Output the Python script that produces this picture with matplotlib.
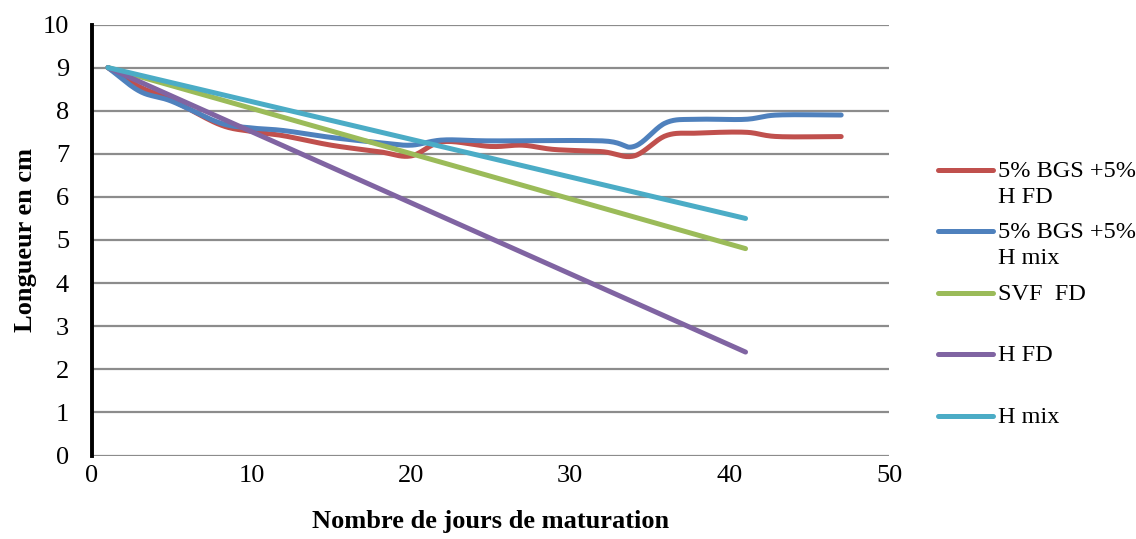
import numpy as np
import matplotlib
matplotlib.use("Agg")
import matplotlib.pyplot as plt
from matplotlib.lines import Line2D

plt.rcParams['font.family'] = ['Liberation Serif', 'DejaVu Serif']

labels = ["5% BGS +5%\nH FD", "5% BGS +5%\nH mix", "SVF  FD", "H FD", "H mix"]
colors = ["#C0504D", "#4F81BD", "#9BBB59", "#8064A2", "#4BACC6"]

days_bgs_fd = [1, 3, 5, 8, 10, 12, 15, 18, 20, 22, 25, 27, 29, 32, 34, 36, 38, 41, 43, 47]
len_bgs_fd = [9.0, 8.55, 8.25, 7.68, 7.52, 7.42, 7.2, 7.05, 6.95, 7.28, 7.17, 7.2, 7.1, 7.05, 6.95,
              7.42, 7.48, 7.5, 7.4, 7.4]

days_bgs_mix = [1, 3, 5, 8, 10, 12, 15, 18, 20, 22, 25, 32, 34, 36, 38, 41, 43, 47]
len_bgs_mix = [9.0, 8.45, 8.22, 7.72, 7.6, 7.54, 7.38, 7.26, 7.2, 7.32, 7.3, 7.3, 7.17,
               7.72, 7.8, 7.8, 7.9, 7.9]

days_svf_fd = [1, 41]
len_svf_fd = [9.0, 4.8]

days_h_fd = [1, 41]
len_h_fd = [9.0, 2.4]

days_h_mix = [1, 41]
len_h_mix = [9.0, 5.5]

series = [(days_bgs_fd, len_bgs_fd), (days_bgs_mix, len_bgs_mix), (days_svf_fd, len_svf_fd),
          (days_h_fd, len_h_fd), (days_h_mix, len_h_mix)]

x_ticks = [0, 10, 20, 30, 40, 50]
y_ticks = list(range(0, 11))


def smooth(x, y, n=20):
    x = np.asarray(x, float)
    y = np.asarray(y, float)
    if len(x) < 3:
        return x, y
    px = np.concatenate([[2 * x[0] - x[1]], x, [2 * x[-1] - x[-2]]])
    py = np.concatenate([[2 * y[0] - y[1]], y, [2 * y[-1] - y[-2]]])
    xs, ys = [], []
    t = np.linspace(0, 1, n, endpoint=False)
    for i in range(1, len(px) - 2):
        for P, out in ((px, xs), (py, ys)):
            p0, p1, p2, p3 = P[i - 1], P[i], P[i + 1], P[i + 2]
            out.extend(0.5 * (2 * p1 + (-p0 + p2) * t + (2 * p0 - 5 * p1 + 4 * p2 - p3) * t ** 2
                              + (-p0 + 3 * p1 - 3 * p2 + p3) * t ** 3))
    xs.append(x[-1])
    ys.append(y[-1])
    return np.array(xs), np.array(ys)


W, H = 1136, 539
fig = plt.figure(figsize=(W / 100, H / 100), dpi=100)
ax = fig.add_axes([92 / W, 1 - 455.5 / H, (889 - 92) / W, (455.5 - 24.5) / H])

for (d, v), c in zip(series, colors):
    sx, sy = smooth(d, v)
    ax.plot(sx, sy, color=c, lw=3.6, solid_capstyle='round', solid_joinstyle='round', zorder=3)

ax.set_xlim(0, 50)
ax.set_ylim(0, 10)
ax.set_xticks(x_ticks)
ax.set_yticks(y_ticks)
ax.grid(axis='y', color='#8C8C8C', lw=1.6, zorder=1)
ax.set_axisbelow(True)
for s in ('top', 'right', 'bottom'):
    ax.spines[s].set_visible(False)
ax.spines['left'].set_linewidth(2.8)
ax.spines['left'].set_color('black')
ax.tick_params(length=0, labelsize=19)
ax.tick_params(axis='y', pad=16.5)
ax.tick_params(axis='x', pad=7)

ax.set_xlabel("Nombre de jours de maturation", fontsize=19, fontweight='bold')
ax.set_ylabel("Longueur en cm", fontsize=19, fontweight='bold')
ax.xaxis.set_label_coords(0.5, -0.126)
ax.yaxis.set_label_coords(-55 / (889 - 92), 0.5)

# legend, Excel style
handle_y = [170, 231, 293, 354, 416]
for lab, c, hy in zip(labels, colors, handle_y):
    fig.add_artist(Line2D([938 / W, 993 / W], [1 - hy / H, 1 - hy / H], color=c, lw=3.6,
                          solid_capstyle='round', transform=fig.transFigure))
    fig.text(998 / W, 1 - (hy - 9) / H, lab, fontsize=17.5, va='top', ha='left',
             linespacing=1.3)

fig.savefig("out.png", dpi=100)
